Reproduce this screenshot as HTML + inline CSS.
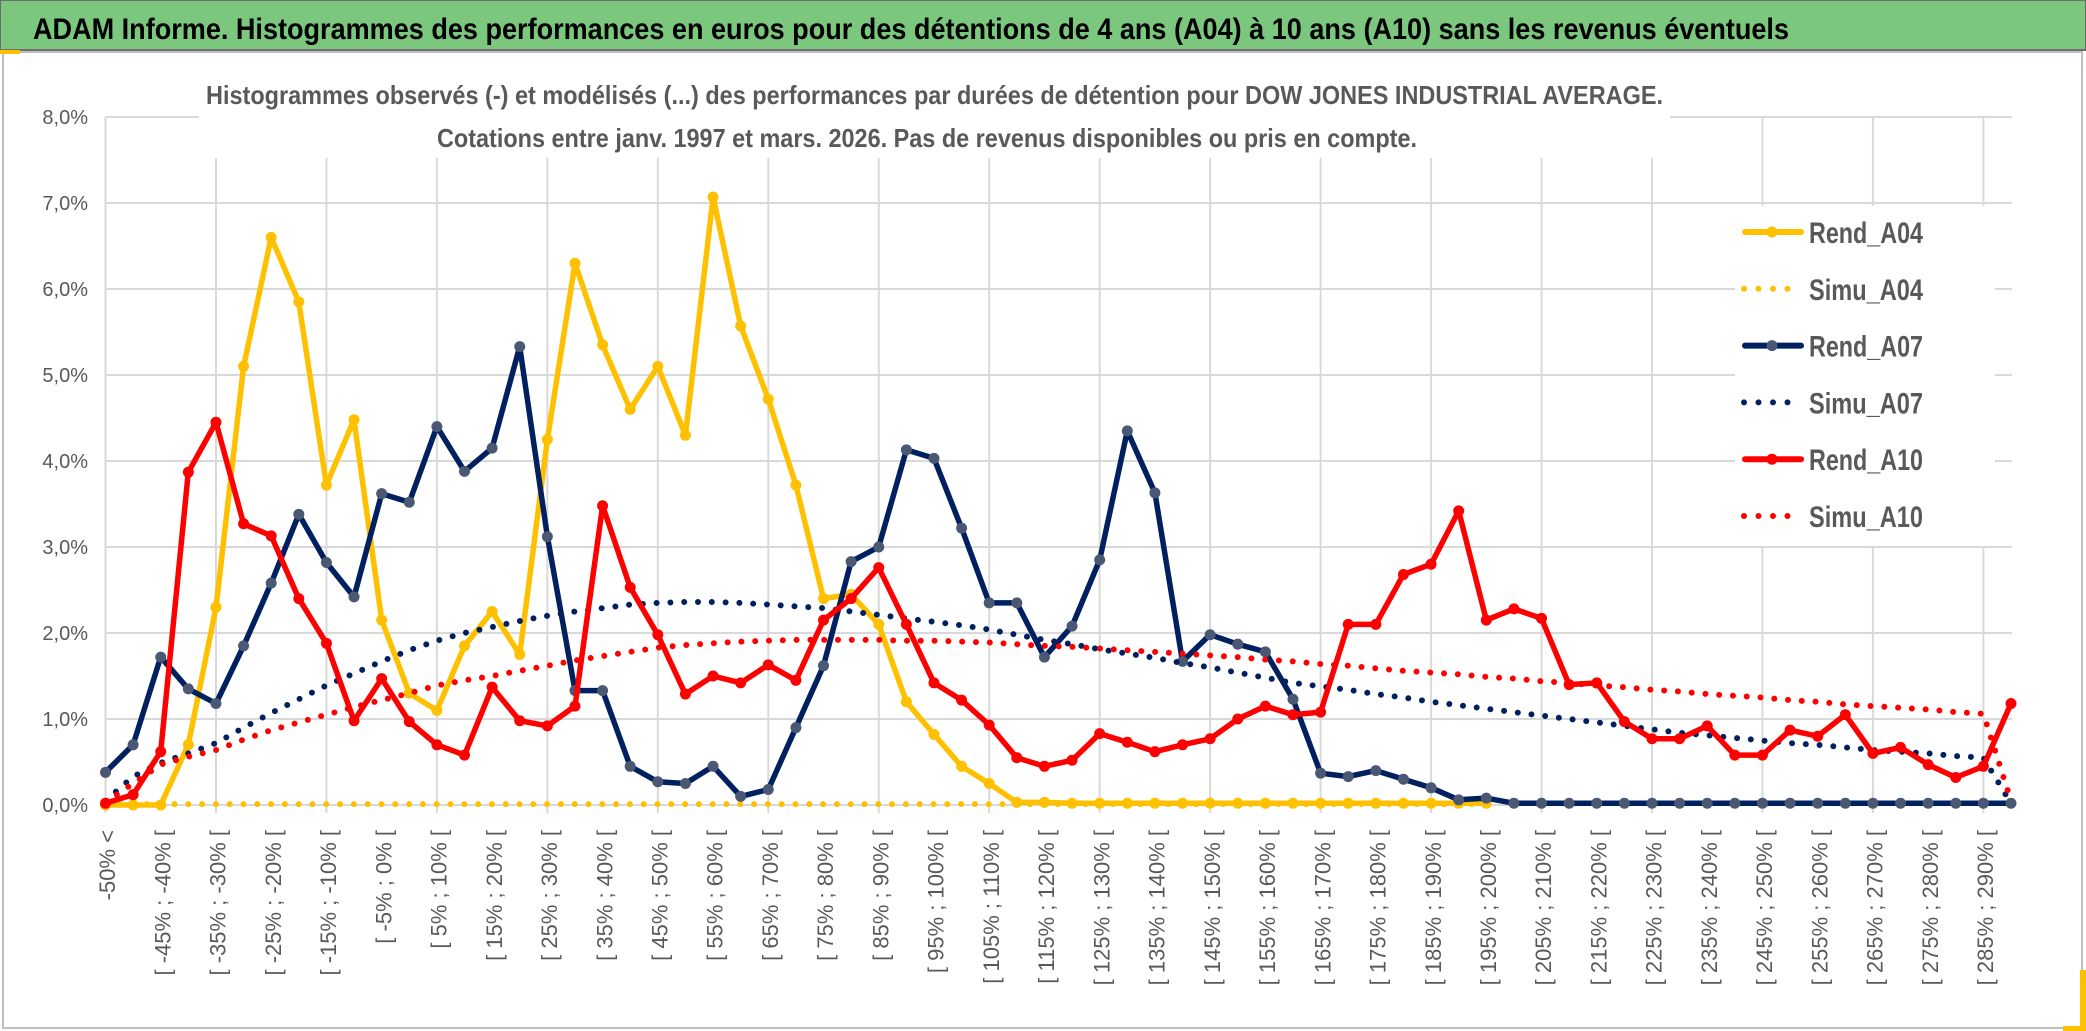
<!DOCTYPE html>
<html><head><meta charset="utf-8"><style>
html,body{margin:0;padding:0;background:#fff;}
svg{display:block;font-family:"Liberation Sans",sans-serif;}
</style></head><body>
<svg id="chart" width="2086" height="1031" viewBox="0 0 2086 1031" xmlns="http://www.w3.org/2000/svg">
<rect x="0" y="0" width="2086" height="1031" fill="#fff"/>
<rect x="0" y="0" width="2086" height="50" fill="#7cc77e" stroke="#6d6d6d" stroke-width="2"/>
<text x="33" y="39" font-size="30" font-weight="bold" fill="#000" textLength="1756" lengthAdjust="spacingAndGlyphs">ADAM Informe. Histogrammes des performances en euros pour des détentions de 4 ans (A04) à 10 ans (A10) sans les revenus éventuels</text>
<rect x="3" y="52" width="2079" height="976" fill="none" stroke="#bfbfbf" stroke-width="2"/>
<rect x="0" y="50" width="20" height="4" fill="#ffc000"/>
<rect x="2063" y="970" width="23" height="61" fill="#ffc000"/>
<rect x="2058" y="970" width="22" height="56" fill="#fff"/>
<g id="grid"></g>
<g id="axes"></g>
<rect x="199" y="58" width="1471" height="100" fill="#fff"/>
<text x="206" y="104" font-size="26" font-weight="bold" fill="#595959" textLength="1457" lengthAdjust="spacingAndGlyphs">Histogrammes observés (-) et modélisés (...) des performances par durées de détention pour DOW JONES INDUSTRIAL AVERAGE.</text>
<text x="437" y="147" font-size="26" font-weight="bold" fill="#595959" textLength="980" lengthAdjust="spacingAndGlyphs">Cotations entre janv. 1997 et mars. 2026. Pas de revenus disponibles ou pris en compte.</text>
<g id="series"></g>
<rect x="1735" y="206" width="260" height="340" fill="#fff"/>
<g id="legend"></g>
</svg>
<script>
const rendA04 = [0,0,0,0.7,2.3,5.1,6.6,5.85,3.72,4.48,2.15,1.3,1.1,1.85,2.25,1.75,4.25,6.3,5.35,4.6,5.1,4.3,7.07,5.57,4.72,3.72,2.4,2.45,2.1,1.2,0.82,0.45,0.25,0.03,0.03,0.02,0.02,0.02,0.02,0.02,0.02,0.02,0.02,0.02,0.02,0.02,0.02,0.02,0.02,0.02,0.02,null,null,null,null,null,null,null,null,null,null,null,null,null,null,null,null,null,null,null];
const simuA04 = [0.01,0.01,0.01,0.01,0.01,0.01,0.01,0.01,0.01,0.01,0.01,0.01,0.01,0.01,0.01,0.01,0.01,0.01,0.01,0.01,0.01,0.01,0.01,0.01,0.01,0.01,0.01,0.01,0.01,0.01,0.01,0.01,0.01,0.01,0.01,0.01,0.01,0.01,0.01,0.01,0.01,0.01,0.01,0.01,0.01,0.01,0.01,0.01,0.01,0.01,0.01,null,null,null,null,null,null,null,null,null,null,null,null,null,null,null,null,null,null,null];
const rendA07 = [0.38,0.7,1.72,1.35,1.18,1.85,2.58,3.38,2.82,2.42,3.62,3.52,4.4,3.88,4.15,5.33,3.12,1.33,1.33,0.45,0.27,0.25,0.45,0.1,0.18,0.9,1.62,2.83,3.0,4.13,4.03,3.22,2.35,2.35,1.72,2.08,2.85,4.35,3.63,1.67,1.98,1.87,1.78,1.23,0.37,0.33,0.4,0.3,0.2,0.06,0.08,0.02,0.02,0.02,0.02,0.02,0.02,0.02,0.02,0.02,0.02,0.02,0.02,0.02,0.02,0.02,0.02,0.02,0.02,0.02];
const simuA07 = [0.05,0.33,0.49,0.6,0.72,0.9,1.07,1.23,1.39,1.53,1.67,1.8,1.91,2.0,2.07,2.14,2.2,2.25,2.29,2.33,2.35,2.36,2.36,2.35,2.33,2.31,2.29,2.25,2.21,2.17,2.13,2.09,2.04,1.98,1.92,1.87,1.81,1.76,1.71,1.65,1.6,1.54,1.48,1.42,1.38,1.34,1.29,1.25,1.2,1.16,1.12,1.08,1.04,1.0,0.96,0.92,0.88,0.84,0.81,0.78,0.75,0.72,0.7,0.67,0.64,0.62,0.6,0.57,0.55,0.02];
const rendA10 = [0.02,0.12,0.62,3.87,4.45,3.27,3.13,2.4,1.88,0.98,1.47,0.97,0.7,0.58,1.37,0.98,0.92,1.15,3.48,2.53,1.98,1.29,1.5,1.42,1.63,1.45,2.15,2.4,2.76,2.1,1.42,1.22,0.93,0.55,0.45,0.52,0.83,0.73,0.62,0.7,0.77,1.0,1.15,1.05,1.08,2.1,2.1,2.68,2.8,3.42,2.15,2.28,2.17,1.4,1.42,0.97,0.77,0.77,0.92,0.58,0.58,0.87,0.8,1.05,0.6,0.67,0.47,0.32,0.45,1.18];
const simuA10 = [0.03,0.25,0.47,0.56,0.64,0.76,0.87,0.96,1.05,1.14,1.22,1.3,1.39,1.45,1.5,1.56,1.62,1.68,1.73,1.78,1.83,1.86,1.88,1.9,1.91,1.92,1.92,1.92,1.92,1.91,1.91,1.9,1.89,1.87,1.85,1.84,1.82,1.8,1.78,1.76,1.74,1.72,1.69,1.67,1.64,1.62,1.59,1.56,1.54,1.52,1.49,1.47,1.44,1.42,1.39,1.37,1.34,1.32,1.29,1.27,1.25,1.22,1.2,1.17,1.15,1.13,1.11,1.08,1.06,0.05];
const yTicks = [0,1,2,3,4,5,6,7,8];
const yTickLabels = ["0,0%","1,0%","2,0%","3,0%","4,0%","5,0%","6,0%","7,0%","8,0%"];
const categories = [];
categories.push("-50% <");
for (let k = 1; k < 70; k++) { const lo = -55 + 5*k; categories.push("[ " + lo + "% ; " + (lo+5) + "% ["); }

const NS = "http://www.w3.org/2000/svg";
const X0 = 105.5, X1 = 2011, Y0 = 805, PER = 86;
const xs = i => X0 + i * (X1 - X0) / (categories.length - 1);
const ys = v => Y0 - v * PER;
function mk(tag, attrs, parent) {
  const e = document.createElementNS(NS, tag);
  for (const k in attrs) e.setAttribute(k, attrs[k]);
  parent.appendChild(e); return e;
}
const grid = document.getElementById('grid');
const axes = document.getElementById('axes');
yTicks.forEach((t, i) => {
  const l = mk('line', {x1: X0, x2: 2012, y1: ys(t), y2: ys(t), stroke: '#d9d9d9', 'stroke-width': 2}, grid);
  
  
  const tx = mk('text', {x: 88, y: ys(t) + 7, 'text-anchor': 'end', 'font-size': 20, fill: '#595959'}, axes);
  tx.textContent = yTickLabels[i];
  
  
});
for (let i = 0; i < categories.length; i += 4) {
  const l = mk('line', {x1: xs(i), x2: xs(i), y1: ys(8), y2: Y0 + 8, stroke: '#d9d9d9', 'stroke-width': 2}, grid);
  
  
}
for (let i = 0; i < categories.length; i += 2) {
  const x = xs(i) + 2;
  const tx = mk('text', {x: x, y: 830, 'text-anchor': 'end', 'font-size': 22, fill: '#595959', transform: 'rotate(-90 ' + x + ' 830)', dy: '0.35em'}, axes);
  tx.textContent = categories[i];
  
  
}
const series = document.getElementById('series');
function pathFor(arr) {
  let d = '', pen = false;
  arr.forEach((v, i) => {
    if (v === null) { pen = false; return; }
    d += (pen ? 'L' : 'M') + xs(i).toFixed(1) + ' ' + ys(v).toFixed(1) + ' ';
    pen = true;
  });
  return d;
}
function drawSolid(arr, color, mcolor, name) {
  const g = mk('g', {}, series);
  
  
  mk('path', {d: pathFor(arr), fill: 'none', stroke: color, 'stroke-width': 5.5, 'stroke-linejoin': 'round', 'stroke-linecap': 'round'}, g);
  arr.forEach((v, i) => {
    if (v === null) return;
    const c = mk('circle', {cx: xs(i), cy: ys(v), r: 5.5, fill: mcolor}, g);
    
    
  });
}
function drawDotted(arr, color, name) {
  const p = mk('path', {d: pathFor(arr), fill: 'none', stroke: color, 'stroke-width': 6, 'stroke-linecap': 'round', 'stroke-dasharray': '0 13.8'}, series);
  
  
}
drawSolid(rendA04, '#ffc000', '#ffc000', 'rend-a04-line');
drawDotted(simuA04, '#ffc000', 'simu-a04-line');
drawSolid(rendA07, '#002060', '#4a5873', 'rend-a07-line');
drawDotted(simuA07, '#002060', 'simu-a07-line');
drawSolid(rendA10, '#ff0000', '#ff0000', 'rend-a10-line');
drawDotted(simuA10, '#ff0000', 'simu-a10-line');

const legendNames = ['Rend_A04','Simu_A04','Rend_A07','Simu_A07','Rend_A10','Simu_A10'];
const legendColors = ['#ffc000','#ffc000','#002060','#002060','#ff0000','#ff0000'];
const legendMarker = ['#ffc000',null,'#4a5873',null,'#ff0000',null];
const lg = document.getElementById('legend');
legendNames.forEach((n, i) => {
  const y = 232 + i * 56.8;
  const g = mk('g', {}, lg);
  
  
  if (legendMarker[i]) {
    mk('line', {x1: 1745, x2: 1801, y1: y, y2: y, stroke: legendColors[i], 'stroke-width': 6, 'stroke-linecap': 'round'}, g);
    mk('circle', {cx: 1772, cy: y, r: 5.5, fill: legendMarker[i]}, g);
  } else {
    mk('line', {x1: 1744, x2: 1800, y1: y, y2: y, stroke: legendColors[i], 'stroke-width': 6, 'stroke-linecap': 'round', 'stroke-dasharray': '0 14.5'}, g);
  }
  const t = mk('text', {x: 1809, y: y + 11, 'font-size': 30, 'font-weight': 'bold', fill: '#595959', textLength: 114, lengthAdjust: 'spacingAndGlyphs'}, g);
  t.textContent = n;
});
</script>
</body></html>
